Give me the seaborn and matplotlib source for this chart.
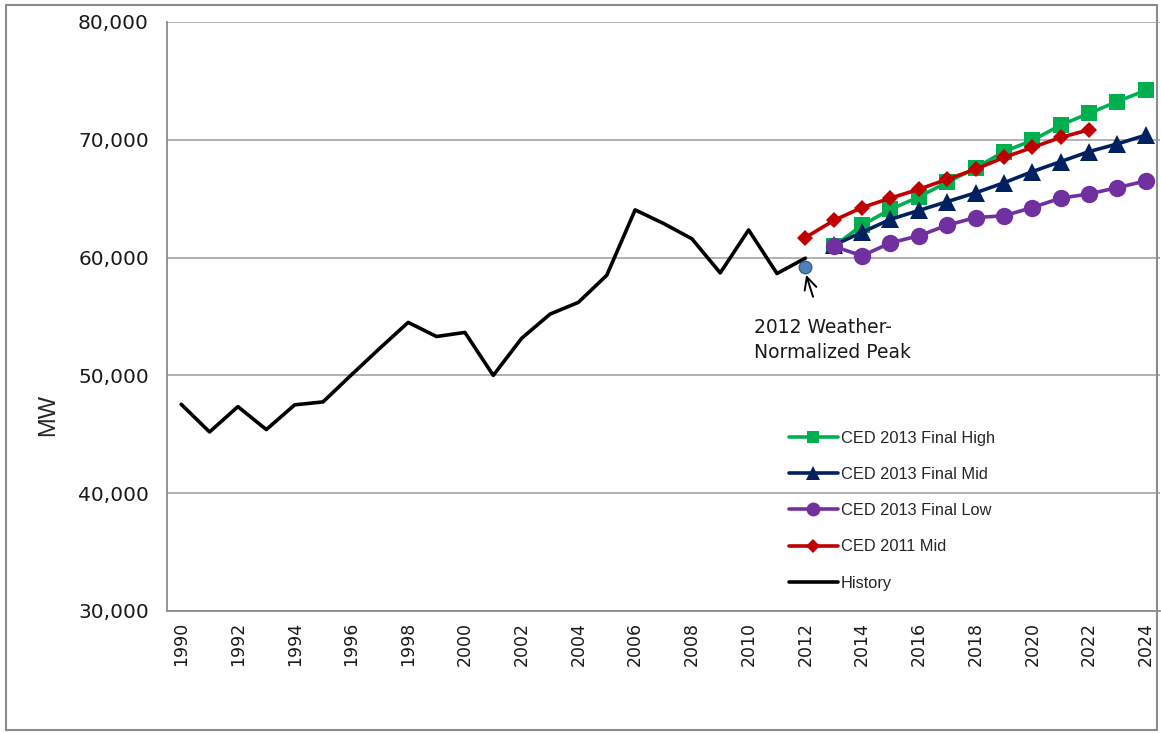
import numpy as np
import pandas as pd
import seaborn as sns
import matplotlib.pyplot as plt
from matplotlib.patches import Rectangle
from matplotlib.ticker import FuncFormatter, MultipleLocator

# History of peak demand, 1990-2012
hist_years = list(range(1990, 2013))
hist_mw = [47550, 45200, 47350, 45400, 47500, 47750, 50050, 52300, 54500,
           53300, 53650, 50000, 53150, 55200, 56200, 58500, 64050, 62900,
           61600, 58700, 62350, 58650, 59950]

# forecasts
high_years = list(range(2013, 2025))
high_mw = [60950, 62750, 64100, 65150, 66400, 67600, 69000, 69950, 71250,
           72250, 73250, 74200]

mid_years = list(range(2013, 2025))
mid_mw = [61050, 62150, 63250, 64000, 64750, 65500, 66350, 67300, 68150,
          69000, 69650, 70400]

low_years = list(range(2013, 2025))
low_mw = [60950, 60150, 61250, 61850, 62750, 63400, 63550, 64250, 65050,
          65400, 65950, 66500]

old_years = list(range(2012, 2023))
old_mw = [61700, 63150, 64250, 65050, 65800, 66650, 67500, 68500, 69350,
          70200, 70850]

peak_year = [2012]
peak_mw = [59200]

year_labels = list(range(1990, 2025, 2))

sns.set_style("white")
plt.rcParams['font.family'] = ['DejaVu Sans']

fig = plt.figure(figsize=(11.61, 7.33), dpi=100)
ax = fig.add_axes([167 / 1161, 1 - 611 / 733, (1160 - 167) / 1161, (611 - 22) / 733])

lw = 2.6
sns.lineplot(x=high_years, y=high_mw, color='#00B050', marker='s', markersize=11.5,
             markeredgewidth=0, linewidth=lw, label='CED 2013 Final High', ax=ax)
sns.lineplot(x=mid_years, y=mid_mw, color='#002060', marker='^', markersize=12.5,
             markeredgewidth=0, linewidth=lw, label='CED 2013 Final Mid', ax=ax)
sns.lineplot(x=low_years, y=low_mw, color='#7030A0', marker='o', markersize=12.5,
             markeredgewidth=0, linewidth=lw, label='CED 2013 Final Low', ax=ax)
sns.lineplot(x=old_years, y=old_mw, color='#C00000', marker='D', markersize=8.5,
             markeredgewidth=0, linewidth=lw, label='CED 2011 Mid', ax=ax)
sns.lineplot(x=hist_years, y=hist_mw, color='black', linewidth=lw,
             label='History', ax=ax)
ax.plot(peak_year, peak_mw, marker='o', markersize=9, color='#4F81BD',
        markeredgecolor='#385D8A', markeredgewidth=1, linestyle='none', zorder=5)

ax.set_xlim(1989.5, 2024.5)
ax.set_ylim(30000, 80000)

ax.yaxis.set_major_locator(MultipleLocator(10000))
ax.yaxis.set_major_formatter(FuncFormatter(lambda v, p: f"{int(v):,}"))
ax.grid(axis='y', color='#ABABAB', linewidth=1.3)
ax.set_axisbelow(True)

ax.set_xticks(year_labels)
ax.set_xticklabels([str(y) for y in year_labels], rotation=90)
ax.set_xticks(np.arange(1989.5, 2025, 1), minor=True)
ax.tick_params(axis='x', which='major', length=0, pad=8, labelsize=12.5)
ax.tick_params(axis='x', which='minor', length=6, width=1.2, color='#8C8C8C', direction='out')
ax.tick_params(axis='y', which='major', length=7, width=1.2, color='#8C8C8C',
               direction='out', labelsize=14.5, pad=6)
ax.tick_params(axis='both', labelcolor='#1a1a1a')

for side in ['top', 'right']:
    ax.spines[side].set_visible(False)
for side in ['left', 'bottom']:
    ax.spines[side].set_color('#8C8C8C')
    ax.spines[side].set_linewidth(1.3)

ax.set_xlabel('')
ax.set_ylabel('MW', fontsize=17, family='Liberation Sans')
ax.yaxis.set_label_coords((59 - 167) / 993, (611 - 415) / 589)

# annotation for the weather-normalized point
ax.annotate('', xy=(2012.0, 58750), xytext=(2012.3, 56450),
            arrowprops=dict(arrowstyle='->', color='black', lw=1.4,
                            mutation_scale=22))
ax.text(2010.2, 54900, '2012 Weather-\nNormalized Peak', fontsize=13.5,
        va='top', ha='left', linespacing=1.45, color='#1a1a1a')

leg = ax.legend(loc='upper left', bbox_to_anchor=((782 - 167) / 993, 1 - (424 - 22) / 589),
                frameon=False, prop={'family': 'Liberation Sans', 'size': 11.8},
                handlelength=3.0, handletextpad=0.2, labelspacing=1.3,
                borderaxespad=0, markerscale=0.8)

fig.patches.append(Rectangle((6 / 1161, 3 / 733), 1151 / 1161, 725 / 733,
                             transform=fig.transFigure, fill=False,
                             edgecolor='#8C8C8C', linewidth=1.5))

fig.savefig('out.png', dpi=100)
